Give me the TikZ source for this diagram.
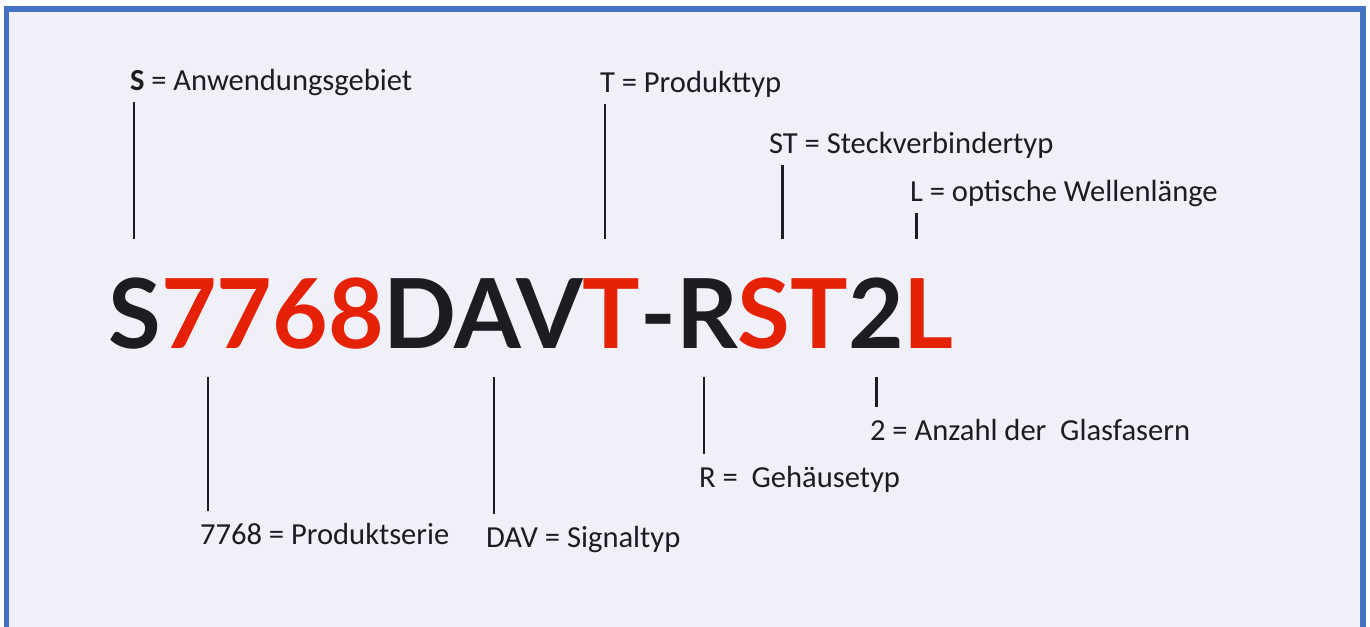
\documentclass[tikz,border=0pt]{standalone}
\usepackage{fontspec}
\setmainfont{Carlito}
\newfontfamily\codefont{Lato}
\usetikzlibrary{positioning}
\definecolor{frameblue}{HTML}{4472C4}
\definecolor{panel}{HTML}{EFF0F8}
\definecolor{ink}{HTML}{1C1D21}
\definecolor{codered}{HTML}{E52207}
\tikzset{
  lbl/.style={inner sep=0pt, outer xsep=0pt, outer ysep=0.14cm, text=ink, font=\fontsize{17.4}{19}\selectfont},
  lblbelow/.style={lbl, outer ysep=0.24cm},
  tick/.style={draw=ink, line width=1.7pt},
}
\newcommand{\rd}[1]{\textcolor{codered}{#1}}

\begin{document}
\begin{tikzpicture}[x=0.02cm,y=-0.02cm]
\clip (0,0) rectangle (1370,626);
\fill[white] (0,0) rectangle (1370,626);
\fill[panel] (6.5,8.5) rectangle (1363,640);
\draw[frameblue, line width=0.12cm] (6.5,640) -- (6.5,8.5) -- (1363,8.5) -- (1363,640);

% part number
\node[anchor=base west, inner sep=0pt, xscale=0.994, text=ink, font=\codefont\bfseries\fontsize{55}{60}\selectfont] (code) at (108,348) {S\rd{7768}DAV\rd{T}-R\rd{ST}2\rd{L}};

% tick ends at the part number
\foreach \n/\x in {S/134, T/605, ST/782, L/916} {
  \coordinate (t\n) at (\x,239);
}
\foreach \n/\x in {ser/208, sig/494, R/704, two/876} {
  \coordinate (b\n) at (\x,377);
}

% labels above
\node[lbl, anchor=base west] (lS) at (130,90) {\textbf{S} = Anwendungsgebiet};
\node[lbl, anchor=base west] (lT) at (600,92) {T = Produkttyp};
\node[lbl, anchor=base west] (lST) at (769,153) {ST = Steckverbindertyp};
\node[lbl, anchor=base west] (lL) at (910,201) {L = optische Wellenlänge};

% labels below
\node[lblbelow, anchor=base west] (lser) at (200,544) {7768 = Produktserie};
\node[lblbelow, anchor=base west] (lsig) at (486,547) {DAV = Signaltyp};
\node[lblbelow, anchor=base west] (lR) at (699,487) {R =~~Gehäusetyp};
\node[lblbelow, anchor=base west] (ltwo) at (870,440) {2 = Anzahl der~~Glasfasern};

\foreach \n in {S,T,ST,L} {
  \draw[tick] (l\n.south -| t\n) -- (t\n);
}
\foreach \n in {ser,sig,R,two} {
  \draw[tick] (b\n) -- (b\n |- l\n.north);
}
\end{tikzpicture}
\end{document}
